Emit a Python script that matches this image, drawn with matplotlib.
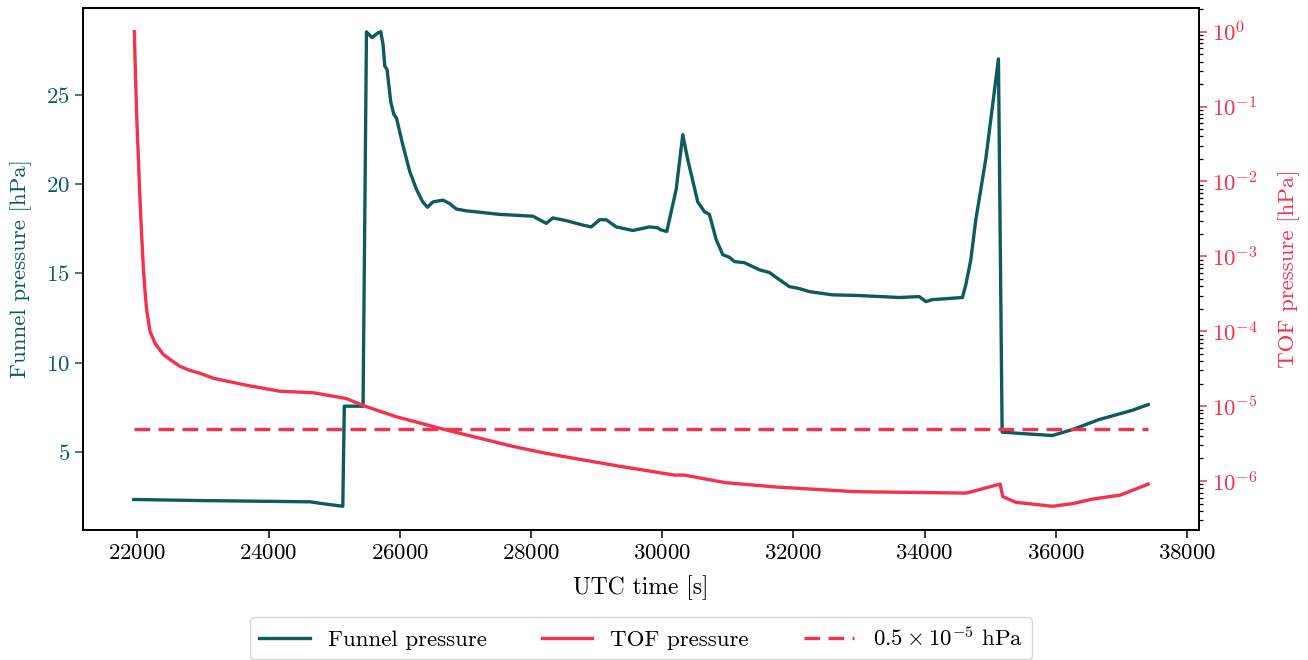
import matplotlib
matplotlib.use("Agg")
import matplotlib.pyplot as plt
import numpy as np

plt.rcParams.update({
    "font.family": "serif",
    "font.serif": ["cmr10", "DejaVu Serif"],
    "mathtext.fontset": "cm",
    "axes.formatter.use_mathtext": True,
    "axes.unicode_minus": False,
    "font.size": 17,
})

FUNNEL_COLOR = "#0e5b5d"
TOF_COLOR = "#f6304f"

# Funnel pressure [hPa] vs UTC time [s]
funnel_time = [21945, 22955, 24630, 24858, 25132, 25155, 25441, 25493, 25578,
               25665, 25711, 25746, 25772, 25807, 25863, 25909, 25950, 26046,
               26153, 26255, 26351, 26422, 26507, 26660, 26762, 26864, 27016,
               27523, 28030, 28234, 28335, 28539, 28792, 28920, 29046, 29148,
               29300, 29553, 29808, 29934, 29970, 30071, 30214, 30315, 30391,
               30543, 30645, 30721, 30823, 30924, 31026, 31102, 31254, 31483,
               31635, 31787, 31939, 32091, 32243, 32594, 33005, 33614, 33919,
               34021, 34117, 34578, 34630, 34706, 34782, 34858, 34934, 35010,
               35127, 35183, 35439, 35949, 36254, 36661, 37167, 37411]
funnel_pressure = [2.35, 2.29, 2.22, 2.10, 1.97, 7.57, 7.57, 28.51, 28.19,
                   28.45, 28.52, 27.80, 26.60, 26.40, 24.60, 23.90, 23.70, 22.20,
                   20.70, 19.70, 19.00, 18.70, 19.00, 19.10, 18.90, 18.60, 18.50,
                   18.30, 18.20, 17.80, 18.10, 17.95, 17.70, 17.60, 18.00, 18.00,
                   17.60, 17.40, 17.60, 17.55, 17.45, 17.34, 19.70, 22.76, 21.36,
                   19.00, 18.45, 18.30, 16.90, 16.05, 15.90, 15.66, 15.60, 15.20,
                   15.05, 14.65, 14.26, 14.15, 13.98, 13.80, 13.76, 13.65, 13.70,
                   13.42, 13.53, 13.65, 14.37, 15.77, 18.00, 19.70, 21.40, 23.60,
                   27.00, 6.12, 6.05, 5.93, 6.26, 6.82, 7.34, 7.66]

# TOF pressure [hPa] vs UTC time [s]
tof_time = [21954, 21972, 21991, 22016, 22041, 22066, 22091, 22117, 22143,
            22193, 22270, 22396, 22498, 22650, 22802, 22955, 23157, 23666,
            24173, 24680, 24935, 25189, 25441, 25950, 26712, 27726, 28234,
            28741, 29343, 30187, 30336, 30968, 31750, 32955, 34639, 35152,
            35193, 35391, 35949, 36264, 36566, 36988, 37411]
tof_pressure = [1.0, 2.6e-1, 7.2e-2, 2.0e-2, 5.6e-3, 1.9e-3, 7.2e-4, 3.4e-4,
                1.9e-4, 1.0e-4, 6.9e-5, 4.9e-5, 4.2e-5, 3.4e-5, 3.0e-5,
                2.75e-5, 2.36e-5, 1.9e-5, 1.58e-5, 1.51e-5, 1.38e-5, 1.26e-5,
                1.02e-5, 7.2e-6, 4.8e-6, 2.9e-6, 2.34e-6, 1.95e-6, 1.58e-6,
                1.20e-6, 1.20e-6, 9.5e-7, 8.3e-7, 7.2e-7, 6.9e-7, 9.1e-7,
                6.2e-7, 5.2e-7, 4.6e-7, 5.0e-7, 5.75e-7, 6.5e-7, 9.1e-7]

threshold = 0.5e-5

fig = plt.figure(figsize=(13.08, 6.60), dpi=100)
fig.subplots_adjust(left=83 / 1308, right=1199 / 1308,
                    top=1 - 8 / 660, bottom=1 - 530 / 660)
ax = fig.add_subplot(111)
ax2 = ax.twinx()

l1, = ax.plot(funnel_time, funnel_pressure, color=FUNNEL_COLOR, lw=2.4,
              label="Funnel pressure")
l2, = ax2.plot(tof_time, tof_pressure, color=TOF_COLOR, lw=2.4,
               label="TOF pressure")
l3, = ax2.plot([tof_time[0], tof_time[-1]], [threshold, threshold],
               color=TOF_COLOR, lw=2.4, ls=(0, (4.7, 2.5)),
               label=r"$0.5\times10^{-5}$ hPa")
ax2.set_yscale("log")

ax.set_xlabel("UTC time [s]", fontsize=17, labelpad=9)
ax.set_ylabel("Funnel pressure [hPa]", color=FUNNEL_COLOR, fontsize=16.5,
              labelpad=10)
ax2.set_ylabel("TOF pressure [hPa]", color=TOF_COLOR, fontsize=16.5,
               labelpad=14)

for a in (ax, ax2):
    for s in a.spines.values():
        s.set_linewidth(1.3)

ax.tick_params(axis="x", which="major", length=6, width=1.1, labelsize=16.5)
ax.tick_params(axis="y", which="major", length=6, width=1.1, labelsize=16.5,
               colors=FUNNEL_COLOR)
ax2.tick_params(axis="y", which="major", length=6, width=1.1, labelsize=16.5,
                colors=TOF_COLOR)
ax2.tick_params(axis="y", which="minor", length=3, width=0.9, colors="black")
ax2.yaxis.set_minor_locator(matplotlib.ticker.LogLocator(base=10, subs=np.arange(2, 10), numticks=30))

ax.legend(handles=[l1, l2, l3], loc="upper center",
          bbox_to_anchor=(0.5, -0.145), ncol=3, fontsize=16.5,
          handlelength=2.2, columnspacing=2.4, frameon=True)

fig.savefig("out.png", dpi=100)
